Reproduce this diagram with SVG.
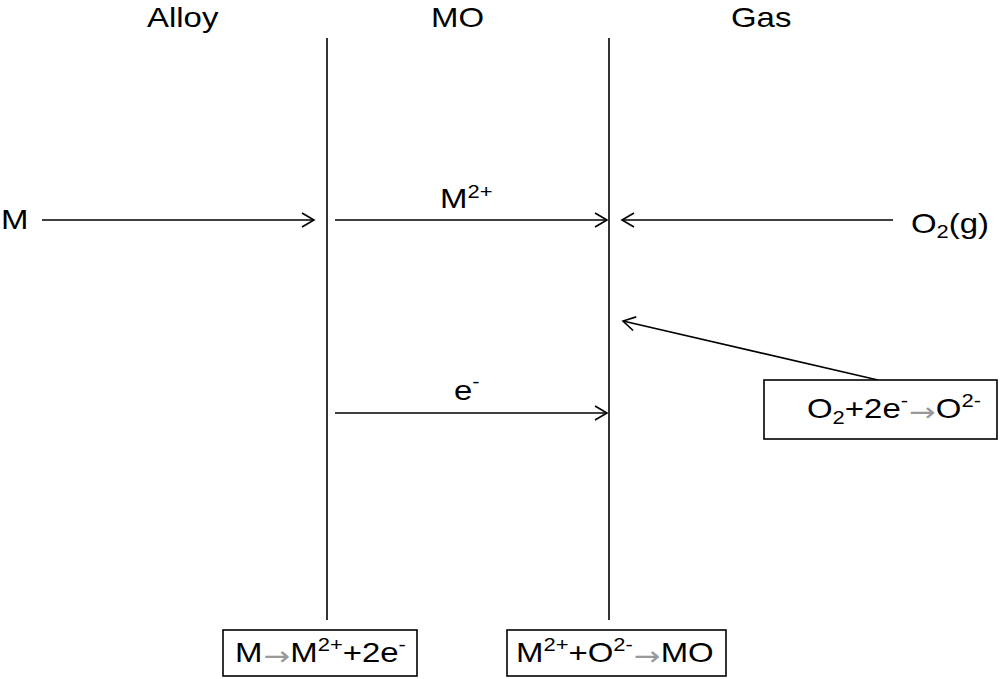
<svg xmlns="http://www.w3.org/2000/svg" width="1001" height="679" viewBox="0 0 1001 679">
<style>
text{font-family:"Liberation Sans",Arial,sans-serif;font-size:27px;fill:#000}
.sup{font-size:18px}
.ar{font-family:"DejaVu Sans",sans-serif;font-size:26px;fill:#999}
.ln{stroke:#000;stroke-width:1.6;fill:none}
.box{fill:#fff;stroke:#000;stroke-width:1.6}
</style>
<defs>
<marker id="ah" markerWidth="16" markerHeight="16" refX="13" refY="8" orient="auto" markerUnits="userSpaceOnUse">
<polyline points="1,1 13,8 1,15" fill="none" stroke="#000" stroke-width="1.6"/>
</marker>
</defs>
<rect width="1001" height="679" fill="#fff"/>
<g id="headers">
<text transform="translate(147,27) scale(1.22,1)">Alloy</text>
<text transform="translate(431,27) scale(1.22,1)">MO</text>
<text transform="translate(731,27) scale(1.22,1)">Gas</text>
</g>
<g id="interfaces">
<line class="ln" x1="327" y1="38" x2="327" y2="620"/>
<line class="ln" x1="609" y1="38" x2="609" y2="620"/>
</g>
<g id="labels">
<text transform="translate(1,229) scale(1.22,1)">M</text>
<text transform="translate(440,208) scale(1.22,1)">M<tspan class="sup" dy="-10">2+</tspan></text>
<text transform="translate(454,400) scale(1.22,1)">e<tspan class="sup" dy="-12">-</tspan></text>
<text transform="translate(911,233) scale(1.22,1)">O<tspan class="sup" dy="5">2</tspan><tspan dy="-5">(g)</tspan></text>
</g>
<g id="connectors">
<line class="ln" x1="42" y1="220" x2="314" y2="220" marker-end="url(#ah)"/>
<line class="ln" x1="335" y1="220" x2="607" y2="220" marker-end="url(#ah)"/>
<line class="ln" x1="893" y1="220" x2="622" y2="220" marker-end="url(#ah)"/>
<line class="ln" x1="878" y1="380" x2="623" y2="321" marker-end="url(#ah)"/>
<line class="ln" x1="335" y1="413" x2="607" y2="413" marker-end="url(#ah)"/>
</g>
<g id="box-gas">
<rect class="box" x="764" y="380" width="233" height="59"/>
<text transform="translate(807,418) scale(1.22,1)">O<tspan class="sup" dy="6">2</tspan><tspan dy="-6">+2e</tspan><tspan class="sup" dy="-11">-</tspan><tspan class="ar" dx="1" dy="14">→</tspan><tspan dy="-3">O</tspan><tspan class="sup" dy="-11">2-</tspan></text>
</g>
<g id="box-alloy">
<rect class="box" x="223" y="630" width="194" height="46"/>
<text transform="translate(235,662) scale(1.22,1)">M<tspan class="ar" dx="1" dy="3">→</tspan><tspan dy="-3">M</tspan><tspan class="sup" dy="-11">2+</tspan><tspan dy="11">+2e</tspan><tspan class="sup" dy="-11">-</tspan></text>
</g>
<g id="box-mo">
<rect class="box" x="507" y="630" width="219" height="46"/>
<text transform="translate(516,662) scale(1.22,1)">M<tspan class="sup" dy="-11">2+</tspan><tspan dy="11">+O</tspan><tspan class="sup" dy="-11">2-</tspan><tspan class="ar" dx="1" dy="14">→</tspan><tspan dy="-3">MO</tspan></text>
</g>
</svg>
